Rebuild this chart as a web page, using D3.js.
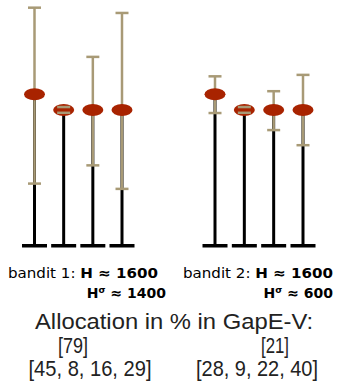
<!DOCTYPE html>
<html>
<head>
<meta charset="utf-8">
<script src="https://cdn.jsdelivr.net/npm/d3@7"></script>
<style>
  body { margin: 0; background: #fff; }
  svg { display: block; }
</style>
</head>
<body>
<div id="main"></div>
<script>
// arms of each bandit
var arms = [0, 1, 2, 3];

// bandit 1: mean and error bar ends per arm
var b1Mean = [0.632, 0.567, 0.567, 0.567];
var b1Lo   = [0.26, 0.555, 0.336, 0.238];
var b1Hi   = [0.993, 0.579, 0.788, 0.971];

// bandit 2
var b2Mean = [0.632, 0.567, 0.567, 0.567];
var b2Lo   = [0.554, 0.555, 0.483, 0.42];
var b2Hi   = [0.707, 0.579, 0.645, 0.713];

var banditNames = ["bandit 1", "bandit 2"];
var hValues = [1600, 1600];
var hSigma = [1400, 600];
var allocBandit = [79, 21];
var allocArms = [[45, 8, 16, 29], [28, 9, 22, 40]];

var width = 337, height = 384;

var svg = d3.select("#main").append("svg")
	.attr("width", width)
	.attr("height", height);

var y = d3.scaleLinear().domain([0, 1]).range([246, 6]);

var xs = [
	d3.scalePoint().domain(arms).range([34.5, 122]),
	d3.scalePoint().domain(arms).range([215, 303])
];

var red = "#a82300";
var tan = "#a89a76";

function drawBandit(x, mean, lo, hi) {
	var g = svg.append("g");
	var data = arms.map(function(a) {
		return {arm: a, mean: mean[a], lo: lo[a], hi: hi[a]};
	});

	// base bars
	g.selectAll(".base").data(data).enter().append("rect")
		.attr("x", function(d) { return x(d.arm) - 12.5; })
		.attr("y", y(0) - 2)
		.attr("width", 25)
		.attr("height", 3.5)
		.attr("fill", "black");

	// black stems up to the mean
	g.selectAll(".stem").data(data).enter().append("line")
		.attr("x1", function(d) { return x(d.arm); })
		.attr("x2", function(d) { return x(d.arm); })
		.attr("y1", y(0))
		.attr("y2", function(d) { return y(d.mean); })
		.attr("stroke", "black")
		.attr("stroke-width", 3);

	// error bar line
	g.selectAll(".err").data(data).enter().append("line")
		.attr("x1", function(d) { return x(d.arm); })
		.attr("x2", function(d) { return x(d.arm); })
		.attr("y1", function(d) { return y(d.lo); })
		.attr("y2", function(d) { return y(d.hi); })
		.attr("stroke", tan)
		.attr("stroke-width", 2.5);

	// mean markers
	g.selectAll(".mean").data(data).enter().append("ellipse")
		.attr("cx", function(d) { return x(d.arm); })
		.attr("cy", function(d) { return y(d.mean); })
		.attr("rx", 10.5)
		.attr("ry", 6)
		.attr("fill", red);

	// caps
	["lo", "hi"].forEach(function(k) {
		g.selectAll(".cap-" + k).data(data).enter().append("line")
			.attr("x1", function(d) { return x(d.arm) - 6.5; })
			.attr("x2", function(d) { return x(d.arm) + 6.5; })
			.attr("y1", function(d) { return y(d[k]); })
			.attr("y2", function(d) { return y(d[k]); })
			.attr("stroke", tan)
			.attr("stroke-width", 2.5);
	});
}

drawBandit(xs[0], b1Mean, b1Lo, b1Hi);
drawBandit(xs[1], b2Mean, b2Lo, b2Hi);

// bandit labels
var labelFont = "'DejaVu Sans', sans-serif";
var labelLeft = [8, 183];
var labelRight = [158, 333];
var label2Right = [166, 333];

banditNames.forEach(function(name, i) {
	var t1 = svg.append("text")
		.attr("x", labelLeft[i])
		.attr("y", 278)
		.attr("font-family", labelFont)
		.attr("font-size", 14)
		.attr("fill", "black")
		.attr("textLength", labelRight[i] - labelLeft[i])
		.attr("lengthAdjust", "spacingAndGlyphs");
	t1.append("tspan").text(name + ": ");
	t1.append("tspan").attr("font-weight", "bold").text("H \u2248 " + hValues[i]);

	var t2 = svg.append("text")
		.attr("x", label2Right[i])
		.attr("y", 298)
		.attr("text-anchor", "end")
		.attr("font-family", labelFont)
		.attr("font-size", 14)
		.attr("font-weight", "bold")
		.attr("fill", "black");
	t2.append("tspan").text("H");
	t2.append("tspan").attr("font-size", 9).attr("dy", -5).text("\u03c3");
	t2.append("tspan").attr("dy", 5).text(" \u2248 " + hSigma[i]);
});

// allocation text
var allocFont = "'Liberation Sans', sans-serif";
svg.append("text")
	.attr("x", 35)
	.attr("y", 329)
	.attr("font-family", allocFont)
	.attr("font-size", 22)
	.attr("fill", "#222")
	.attr("textLength", 278)
	.attr("lengthAdjust", "spacingAndGlyphs")
	.text("Allocation in % in GapE-V:");

var allocCenter1 = [73, 275];
var allocCenter2 = [90, 257];
var allocW1 = [30, 28];
var allocW2 = [123, 122];

allocBandit.forEach(function(v, i) {
	svg.append("text")
		.attr("x", allocCenter1[i] - allocW1[i] / 2)
		.attr("y", 353)
		.attr("font-family", allocFont)
		.attr("font-size", 22)
		.attr("fill", "#222")
		.attr("textLength", allocW1[i])
		.attr("lengthAdjust", "spacingAndGlyphs")
		.text("[" + v + "]");

	svg.append("text")
		.attr("x", allocCenter2[i] - allocW2[i] / 2)
		.attr("y", 376)
		.attr("font-family", allocFont)
		.attr("font-size", 22)
		.attr("fill", "#222")
		.attr("textLength", allocW2[i])
		.attr("lengthAdjust", "spacingAndGlyphs")
		.text("[" + allocArms[i].join(", ") + "]");
});
</script>
</body>
</html>
